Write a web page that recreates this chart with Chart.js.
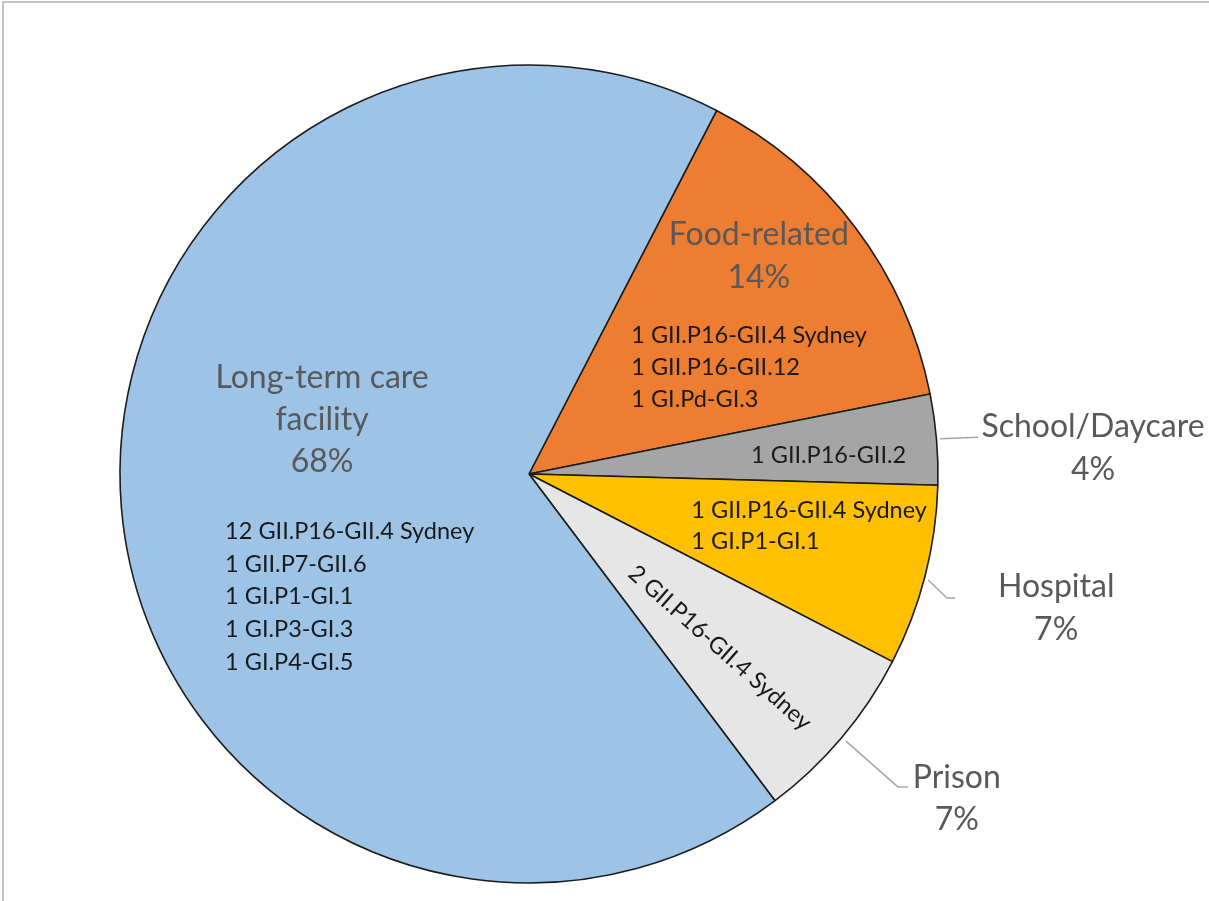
<!DOCTYPE html>
<html>
<head>
<meta charset="utf-8">
<script src="https://cdn.jsdelivr.net/npm/chart.js@4/dist/chart.umd.min.js"></script>
<style>
  html, body { margin: 0; padding: 0; background: #fff; }
  #wrap { position: relative; width: 1209px; height: 901px; overflow: hidden; }
  canvas { position: absolute; left: 0; top: 0; }
  #frame { position: absolute; left: 2px; top: 1px; right: 0; bottom: 0;
           border-top: 2px solid #c4c4c4; border-left: 2px solid #c4c4c4; pointer-events: none; }
</style>
</head>
<body>
<div id="wrap">
  <canvas id="c" width="1209" height="901"></canvas>
  <div id="frame"></div>
</div>
<script>
// ---- data ----
const categories = ['Food-related', 'School/Daycare', 'Hospital', 'Prison', 'Long-term care facility'];
const outbreakCounts = [4, 1, 2, 2, 19];
const percentLabels = ['14%', '4%', '7%', '7%', '68%'];
const titleLines = [['Food-related'], ['School/Daycare'], ['Hospital'], ['Prison'], ['Long-term care', 'facility']];
const genotypeLines = [
  ['1 GII.P16-GII.4 Sydney', '1 GII.P16-GII.12', '1 GI.Pd-GI.3'],
  ['1 GII.P16-GII.2'],
  ['1 GII.P16-GII.4 Sydney', '1 GI.P1-GI.1'],
  ['2 GII.P16-GII.4 Sydney'],
  ['12 GII.P16-GII.4 Sydney', '1 GII.P7-GII.6', '1 GI.P1-GI.1', '1 GI.P3-GI.3', '1 GI.P4-GI.5']
];
const sliceColors = ['#ED7D31', '#A5A5A5', '#FFC000', '#E7E6E6', '#9DC3E6'];

// ---- label layout (relative to pie centre, in units of radius) ----
const FONT = 'Lato, "Open Sans", sans-serif';
const TITLE_SIZE = 32, SUB_SIZE = 23.5;
const TITLE_COLOR = '#595959', SUB_COLOR = '#1a1a1a', LEADER_COLOR = '#a6a6a6';
const layout = [
  { title: { x: 0.562, y: -0.560, lh: 43 }, sub: { x: 0.250, y: -0.320, lh: 32, align: 'left' } },
  { title: { x: 1.379, y: -0.090, lh: 43 }, sub: { x: 0.543, y: -0.027, lh: 32, align: 'left' },
    leader: [[1.005, -0.086], [1.098, -0.090]] },
  { title: { x: 1.289, y: 0.301, lh: 43 }, sub: { x: 0.397, y: 0.108, lh: 31, align: 'left' },
    leader: [[0.976, 0.259], [1.022, 0.303], [1.042, 0.303]] },
  { title: { x: 1.046, y: 0.768, lh: 42 }, sub: { x: 0.467, y: 0.425, rotate: 41.5, align: 'center' },
    leader: [[0.775, 0.653], [0.902, 0.765], [0.927, 0.765]] },
  { title: { x: -0.506, y: -0.210, lh: 42 }, sub: { x: -0.743, y: 0.159, lh: 32.7, align: 'left' } }
];

const labelPlugin = {
  id: 'sliceLabels',
  afterDatasetsDraw(chart) {
    const ctx = chart.ctx;
    const meta = chart.getDatasetMeta(0);
    const a0 = meta.data[0];
    const cx = a0.x, cy = a0.y, R = a0.outerRadius;
    ctx.save();
    layout.forEach((L, i) => {
      if (L.leader) {
        ctx.strokeStyle = LEADER_COLOR;
        ctx.lineWidth = 1.5;
        ctx.beginPath();
        L.leader.forEach((p, k) => {
          const px = cx + p[0] * R, py = cy + p[1] * R;
          if (k === 0) ctx.moveTo(px, py); else ctx.lineTo(px, py);
        });
        ctx.stroke();
      }
      const tl = titleLines[i].concat([percentLabels[i]]);
      ctx.fillStyle = TITLE_COLOR;
      ctx.font = TITLE_SIZE + 'px ' + FONT;
      ctx.textAlign = 'center';
      ctx.textBaseline = 'alphabetic';
      tl.forEach((t, k) => {
        ctx.fillText(t, cx + L.title.x * R, cy + L.title.y * R + k * L.title.lh);
      });
      ctx.fillStyle = SUB_COLOR;
      ctx.font = SUB_SIZE + 'px ' + FONT;
      if (L.sub.rotate !== undefined) {
        ctx.save();
        ctx.translate(cx + L.sub.x * R, cy + L.sub.y * R);
        ctx.rotate(L.sub.rotate * Math.PI / 180);
        ctx.textAlign = 'center';
        ctx.textBaseline = 'middle';
        ctx.fillText(genotypeLines[i][0], 0, 0);
        ctx.restore();
      } else {
        ctx.textAlign = L.sub.align;
        ctx.textBaseline = 'alphabetic';
        genotypeLines[i].forEach((t, k) => {
          ctx.fillText(t, cx + L.sub.x * R, cy + L.sub.y * R + k * L.sub.lh);
        });
      }
    });
    ctx.restore();
  }
};

new Chart(document.getElementById('c'), {
  type: 'pie',
  data: {
    labels: categories,
    datasets: [{
      data: outbreakCounts,
      backgroundColor: sliceColors,
      borderColor: '#1c1c1c',
      borderWidth: 1.6,
      hoverOffset: 0
    }]
  },
  options: {
    responsive: false,
    animation: false,
    rotation: 27.3,
    radius: 409,
    layout: { padding: { left: 100, right: 251, top: 47, bottom: 0 } },
    plugins: { legend: { display: false }, tooltip: { enabled: false } },
    events: []
  },
  plugins: [labelPlugin]
});
</script>
</body>
</html>
